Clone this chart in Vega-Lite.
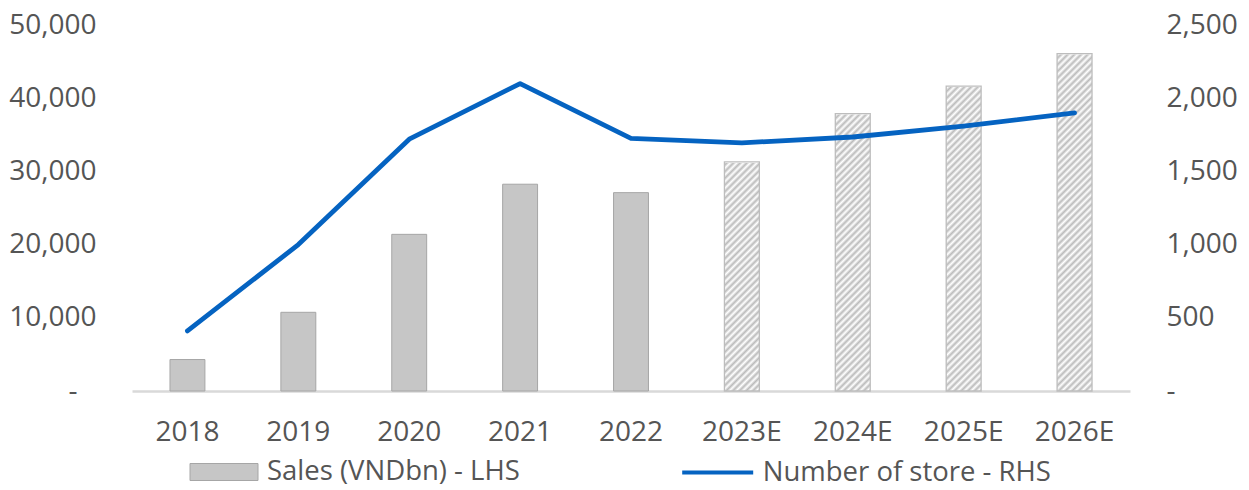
{
  "$schema": "https://vega.github.io/schema/vega-lite/v6.json",
  "width": 998,
  "height": 366,
  "autosize": {"type": "none"},
  "padding": {"left": 132, "top": 25, "right": 119, "bottom": 99},
  "background": "#ffffff",
  "data": {
    "values": [
      {"year": "2018", "sales": 4300, "stores": 410, "est": false},
      {"year": "2019", "sales": 10750, "stores": 1000, "est": false},
      {"year": "2020", "sales": 21400, "stores": 1720, "est": false},
      {"year": "2021", "sales": 28250, "stores": 2100, "est": false},
      {"year": "2022", "sales": 27100, "stores": 1725, "est": false},
      {"year": "2023E", "sales": 31300, "stores": 1695, "est": true},
      {"year": "2024E", "sales": 37900, "stores": 1735, "est": true},
      {"year": "2025E", "sales": 41650, "stores": 1810, "est": true},
      {"year": "2026E", "sales": 46100, "stores": 1900, "est": true}
    ]
  },
  "encoding": {
    "x": {
      "field": "year",
      "type": "nominal",
      "sort": null,
      "scale": {"type": "band", "paddingInner": 0, "paddingOuter": 0, "domain": ["2018", "2019", "2020", "2021", "2022", "2023E", "2024E", "2025E", "2026E"]},
      "axis": {"title": null, "ticks": false, "tickSize": 0, "labelAngle": 0, "labelBaseline": "middle", "labelPadding": 41, "domainColor": "#d9d9d9", "domainWidth": 2.5, "grid": false}
    }
  },
  "layer": [
    {
      "layer": [
        {
          "transform": [{"filter": "datum.est"}],
          "mark": {
            "type": "bar",
            "width": {"band": 0.315},
            "fill": {
              "gradient": "linear", "x1": 0, "y1": 0, "x2": 0.1036, "y2": 1.0856,
              "stops": [
                {"offset":0,"color":"#bbb"},{"offset":0.0083,"color":"#fff"},{"offset":0.0167,"color":"#bbb"},{"offset":0.025,"color":"#fff"},{"offset":0.0333,"color":"#bbb"},{"offset":0.0417,"color":"#fff"},{"offset":0.05,"color":"#bbb"},{"offset":0.0583,"color":"#fff"},{"offset":0.0667,"color":"#bbb"},{"offset":0.075,"color":"#fff"},{"offset":0.0833,"color":"#bbb"},{"offset":0.0917,"color":"#fff"},
                {"offset":0.1,"color":"#bbb"},{"offset":0.1083,"color":"#fff"},{"offset":0.1167,"color":"#bbb"},{"offset":0.125,"color":"#fff"},{"offset":0.1333,"color":"#bbb"},{"offset":0.1417,"color":"#fff"},{"offset":0.15,"color":"#bbb"},{"offset":0.1583,"color":"#fff"},{"offset":0.1667,"color":"#bbb"},{"offset":0.175,"color":"#fff"},{"offset":0.1833,"color":"#bbb"},{"offset":0.1917,"color":"#fff"},
                {"offset":0.2,"color":"#bbb"},{"offset":0.2083,"color":"#fff"},{"offset":0.2167,"color":"#bbb"},{"offset":0.225,"color":"#fff"},{"offset":0.2333,"color":"#bbb"},{"offset":0.2417,"color":"#fff"},{"offset":0.25,"color":"#bbb"},{"offset":0.2583,"color":"#fff"},{"offset":0.2667,"color":"#bbb"},{"offset":0.275,"color":"#fff"},{"offset":0.2833,"color":"#bbb"},{"offset":0.2917,"color":"#fff"},
                {"offset":0.3,"color":"#bbb"},{"offset":0.3083,"color":"#fff"},{"offset":0.3167,"color":"#bbb"},{"offset":0.325,"color":"#fff"},{"offset":0.3333,"color":"#bbb"},{"offset":0.3417,"color":"#fff"},{"offset":0.35,"color":"#bbb"},{"offset":0.3583,"color":"#fff"},{"offset":0.3667,"color":"#bbb"},{"offset":0.375,"color":"#fff"},{"offset":0.3833,"color":"#bbb"},{"offset":0.3917,"color":"#fff"},
                {"offset":0.4,"color":"#bbb"},{"offset":0.4083,"color":"#fff"},{"offset":0.4167,"color":"#bbb"},{"offset":0.425,"color":"#fff"},{"offset":0.4333,"color":"#bbb"},{"offset":0.4417,"color":"#fff"},{"offset":0.45,"color":"#bbb"},{"offset":0.4583,"color":"#fff"},{"offset":0.4667,"color":"#bbb"},{"offset":0.475,"color":"#fff"},{"offset":0.4833,"color":"#bbb"},{"offset":0.4917,"color":"#fff"},
                {"offset":0.5,"color":"#bbb"},{"offset":0.5083,"color":"#fff"},{"offset":0.5167,"color":"#bbb"},{"offset":0.525,"color":"#fff"},{"offset":0.5333,"color":"#bbb"},{"offset":0.5417,"color":"#fff"},{"offset":0.55,"color":"#bbb"},{"offset":0.5583,"color":"#fff"},{"offset":0.5667,"color":"#bbb"},{"offset":0.575,"color":"#fff"},{"offset":0.5833,"color":"#bbb"},{"offset":0.5917,"color":"#fff"},
                {"offset":0.6,"color":"#bbb"},{"offset":0.6083,"color":"#fff"},{"offset":0.6167,"color":"#bbb"},{"offset":0.625,"color":"#fff"},{"offset":0.6333,"color":"#bbb"},{"offset":0.6417,"color":"#fff"},{"offset":0.65,"color":"#bbb"},{"offset":0.6583,"color":"#fff"},{"offset":0.6667,"color":"#bbb"},{"offset":0.675,"color":"#fff"},{"offset":0.6833,"color":"#bbb"},{"offset":0.6917,"color":"#fff"},
                {"offset":0.7,"color":"#bbb"},{"offset":0.7083,"color":"#fff"},{"offset":0.7167,"color":"#bbb"},{"offset":0.725,"color":"#fff"},{"offset":0.7333,"color":"#bbb"},{"offset":0.7417,"color":"#fff"},{"offset":0.75,"color":"#bbb"},{"offset":0.7583,"color":"#fff"},{"offset":0.7667,"color":"#bbb"},{"offset":0.775,"color":"#fff"},{"offset":0.7833,"color":"#bbb"},{"offset":0.7917,"color":"#fff"},
                {"offset":0.8,"color":"#bbb"},{"offset":0.8083,"color":"#fff"},{"offset":0.8167,"color":"#bbb"},{"offset":0.825,"color":"#fff"},{"offset":0.8333,"color":"#bbb"},{"offset":0.8417,"color":"#fff"},{"offset":0.85,"color":"#bbb"},{"offset":0.8583,"color":"#fff"},{"offset":0.8667,"color":"#bbb"},{"offset":0.875,"color":"#fff"},{"offset":0.8833,"color":"#bbb"},{"offset":0.8917,"color":"#fff"},
                {"offset":0.9,"color":"#bbb"},{"offset":0.9083,"color":"#fff"},{"offset":0.9167,"color":"#bbb"},{"offset":0.925,"color":"#fff"},{"offset":0.9333,"color":"#bbb"},{"offset":0.9417,"color":"#fff"},{"offset":0.95,"color":"#bbb"},{"offset":0.9583,"color":"#fff"},{"offset":0.9667,"color":"#bbb"},{"offset":0.975,"color":"#fff"},{"offset":0.9833,"color":"#bbb"},{"offset":0.9917,"color":"#fff"},
                {"offset":1,"color":"#bbb"}
              ]
            }
          },
          "encoding": {
            "y": {"datum": 50000, "type": "quantitative", "scale": {"domain": [0, 50000], "nice": false},
                  "axis": {"title": null, "values": [0, 10000, 20000, 30000, 40000, 50000], "format": ",.0f", "labelExpr": "datum.value === 0 ? '-' : datum.label", "domain": false, "ticks": false, "grid": false, "labelPadding": {"condition": {"test": "datum.value === 0", "value": 55}, "value": 36}}},
            "y2": {"datum": 0}
          }
        },
        {
          "transform": [{"filter": "datum.est"}],
          "mark": {"type": "bar", "width": {"band": 0.315}, "fill": "#ffffff", "stroke": "#ffffff", "strokeWidth": 2},
          "encoding": {
            "y": {"field": "sales", "type": "quantitative",
                  "axis": {"title": null, "values": [0, 10000, 20000, 30000, 40000, 50000], "format": ",.0f", "labelExpr": "datum.value === 0 ? '-' : datum.label", "domain": false, "ticks": false, "grid": false, "labelPadding": {"condition": {"test": "datum.value === 0", "value": 55}, "value": 36}}},
            "y2": {"datum": 50000}
          }
        },
        {
          "transform": [{"filter": "!datum.est"}],
          "mark": {"type": "bar", "width": {"band": 0.315}, "stroke": "#a6a6a6", "strokeWidth": 1},
          "encoding": {
            "y": {"field": "sales", "type": "quantitative",
                  "axis": {"title": null, "values": [0, 10000, 20000, 30000, 40000, 50000], "format": ",.0f", "labelExpr": "datum.value === 0 ? '-' : datum.label", "domain": false, "ticks": false, "grid": false, "labelPadding": {"condition": {"test": "datum.value === 0", "value": 55}, "value": 36}}},
            "fill": {
              "datum": "Sales (VNDbn) - LHS", "type": "nominal",
              "scale": {"range": ["#c6c6c6"]},
              "legend": {"title": null, "orient": "none", "legendX": 57.5, "legendY": 412.5, "padding": 0,
                         "symbolType": "M-1,-0.25H1V0.25H-1Z", "symbolSize": 4624, "symbolStrokeColor": "#a6a6a6", "symbolStrokeWidth": 1,
                         "labelOffset": 8.5, "labelLimit": 500}
            }
          }
        },
        {
          "transform": [{"filter": "datum.est"}],
          "mark": {"type": "bar", "width": {"band": 0.315}, "fillOpacity": 0, "stroke": "#bdbdbd", "strokeWidth": 1.3},
          "encoding": {
            "y": {"field": "sales", "type": "quantitative",
                  "axis": {"title": null, "values": [0, 10000, 20000, 30000, 40000, 50000], "format": ",.0f", "labelExpr": "datum.value === 0 ? '-' : datum.label", "domain": false, "ticks": false, "grid": false, "labelPadding": {"condition": {"test": "datum.value === 0", "value": 55}, "value": 36}}}
          }
        }
      ]
    },
    {
      "mark": {"type": "line", "strokeWidth": 4.8, "strokeCap": "round", "strokeJoin": "round"},
      "encoding": {
        "x": {"field": "year", "type": "nominal", "sort": null, "bandPosition": 0.5},
        "y": {"field": "stores", "type": "quantitative", "scale": {"domain": [0, 2500], "nice": false},
              "axis": {"orient": "right", "title": null, "values": [0, 500, 1000, 1500, 2000, 2500], "format": ",.0f", "labelExpr": "datum.value === 0 ? '-' : datum.label", "domain": false, "ticks": false, "grid": false, "labelPadding": 36, "labelAlign": "left"}},
        "stroke": {
          "datum": "Number of store - RHS", "type": "nominal",
          "scale": {"range": ["#0563c1"]},
          "legend": {"title": null, "orient": "none", "legendX": 547.7, "legendY": 409.5, "padding": 0,
                     "symbolType": "stroke", "symbolSize": 5041, "symbolStrokeWidth": 4.2, "labelOffset": 7, "labelLimit": 500}
        }
      }
    }
  ],
  "resolve": {"scale": {"y": "independent"}},
  "config": {
    "view": {"stroke": null},
    "font": "Open Sans",
    "axis": {"labelFont": "Open Sans", "labelFontSize": 28, "labelColor": "#555555"},
    "legend": {"labelFont": "Open Sans", "labelFontSize": 27.5, "labelColor": "#555555"}
  }
}
